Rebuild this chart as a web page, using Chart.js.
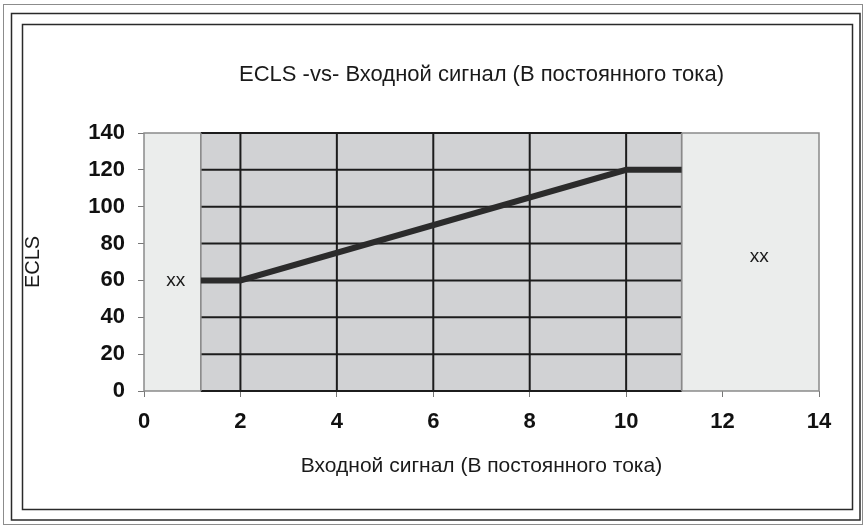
<!DOCTYPE html>
<html>
<head>
<meta charset="utf-8">
<script src="https://cdn.jsdelivr.net/npm/chart.js@4"></script>
<style>
  html, body { margin: 0; padding: 0; background: #fff; }
  #wrap { width: 864px; height: 526px; }
</style>
</head>
<body>
<div id="wrap"><canvas id="chart" width="864" height="526"></canvas></div>
<script>
// data
const inputX = [1.18, 2, 10, 11.15];
const eclsY = [60, 60, 120, 120];
const xTicks = [0, 2, 4, 6, 8, 10, 12, 14];
const yTicks = [0, 20, 40, 60, 80, 100, 120, 140];
const grayBand = [1.18, 11.15];        // shaded working range
const lightBands = [[0, 1.18], [11.15, 14]];
const noteText = ['xx', 'xx'];
const noteX = [0.66, 12.76];
const noteY = [60, 72.7];

const font = "'Liberation Sans', Arial, sans-serif";

const frame = {
  id: 'frame',
  beforeDraw(chart) {
    const ctx = chart.ctx;
    ctx.save();
    ctx.strokeStyle = '#8c8c8c';
    ctx.lineWidth = 1;
    ctx.strokeRect(3.5, 4.5, 859, 520);
    ctx.strokeStyle = '#2a2a2a';
    ctx.lineWidth = 1.5;
    ctx.strokeRect(11.5, 13.5, 848.5, 506.5);
    ctx.strokeRect(22.5, 24.5, 830, 485);
    ctx.restore();
  },
  beforeDatasetsDraw(chart) {
    const ctx = chart.ctx;
    const xs = chart.scales.x, ys = chart.scales.y;
    const top = ys.getPixelForValue(140), bot = ys.getPixelForValue(0);
    ctx.save();
    // light side boxes
    lightBands.forEach(b => {
      const l = xs.getPixelForValue(b[0]), r = xs.getPixelForValue(b[1]);
      ctx.fillStyle = '#ebedec';
      ctx.fillRect(l, top, r - l, bot - top);
      ctx.strokeStyle = '#8a8a8a';
      ctx.lineWidth = 1.5;
      ctx.strokeRect(l, top, r - l, bot - top);
    });
    // gray plot band
    const gl = xs.getPixelForValue(grayBand[0]), gr = xs.getPixelForValue(grayBand[1]);
    ctx.fillStyle = '#d1d2d4';
    ctx.fillRect(gl, top, gr - gl, bot - top);
    ctx.strokeStyle = '#1c1c1c';
    ctx.lineWidth = 2;
    yTicks.forEach(v => {
      const y = ys.getPixelForValue(v);
      ctx.beginPath();
      ctx.moveTo(gl, y);
      ctx.lineTo(gr, y);
      ctx.stroke();
    });
    xTicks.filter(v => v > grayBand[0] && v < grayBand[1]).forEach(v => {
      const x = xs.getPixelForValue(v);
      ctx.beginPath();
      ctx.moveTo(x, top);
      ctx.lineTo(x, bot);
      ctx.stroke();
    });
    ctx.strokeStyle = '#8a8a8a';
    ctx.lineWidth = 1.5;
    ctx.beginPath();
    ctx.moveTo(gl, top); ctx.lineTo(gl, bot);
    ctx.moveTo(gr, top); ctx.lineTo(gr, bot);
    ctx.stroke();
    ctx.restore();
  },
  afterDatasetsDraw(chart) {
    const ctx = chart.ctx;
    const xs = chart.scales.x, ys = chart.scales.y;
    ctx.save();
    ctx.fillStyle = '#1a1a1a';
    ctx.font = '19px ' + font;
    ctx.textAlign = 'center';
    ctx.textBaseline = 'middle';
    noteText.forEach((t, i) => {
      ctx.fillText(t, xs.getPixelForValue(noteX[i]), ys.getPixelForValue(noteY[i]));
    });
    ctx.restore();
  }
};

new Chart(document.getElementById('chart'), {
  type: 'line',
  data: {
    datasets: [{
      data: inputX.map((x, i) => ({ x: x, y: eclsY[i] })),
      borderColor: '#2b2b2b',
      borderWidth: 6,
      borderCapStyle: 'butt',
      pointRadius: 0,
      tension: 0,
      fill: false
    }]
  },
  options: {
    responsive: false,
    animation: false,
    layout: { padding: { left: 0, right: 45, top: 0, bottom: 0 } },
    plugins: {
      legend: { display: false },
      tooltip: { enabled: false },
      title: {
        display: true,
        fullSize: false,
        text: 'ECLS -vs- Входной сигнал (В постоянного тока)',
        color: '#1a1a1a',
        font: { family: font, size: 22, weight: 'normal' },
        padding: { top: 61.8, bottom: 44.8 }
      }
    },
    scales: {
      x: {
        type: 'linear',
        min: 0, max: 14,
        afterFit(s) { s.height = 135; },
        afterBuildTicks(s) { s.ticks = xTicks.map(v => ({ value: v })); },
        grid: { drawOnChartArea: false, drawTicks: true, tickLength: 6, color: '#777', lineWidth: 1 },
        border: { display: false },
        ticks: { color: '#111', padding: 12, maxRotation: 0, font: { family: font, size: 22, weight: 'bold' } },
        title: {
          display: true,
          text: 'Входной сигнал (В постоянного тока)',
          color: '#1a1a1a',
          font: { family: font, size: 21 },
          padding: { top: 0, bottom: 47.4 }
        }
      },
      y: {
        min: 0, max: 140,
        afterFit(s) { s.width = 144; },
        afterBuildTicks(s) { s.ticks = yTicks.map(v => ({ value: v })); },
        grid: { drawOnChartArea: false, drawTicks: true, tickLength: 6, color: '#777', lineWidth: 1 },
        border: { display: false },
        ticks: { color: '#111', padding: 13, font: { family: font, size: 22, weight: 'bold' } },
        title: {
          display: true,
          text: 'ECLS',
          color: '#1a1a1a',
          font: { family: font, size: 20 },
          padding: { top: 21, bottom: 0 }
        }
      }
    }
  },
  plugins: [frame]
});
</script>
</body>
</html>
